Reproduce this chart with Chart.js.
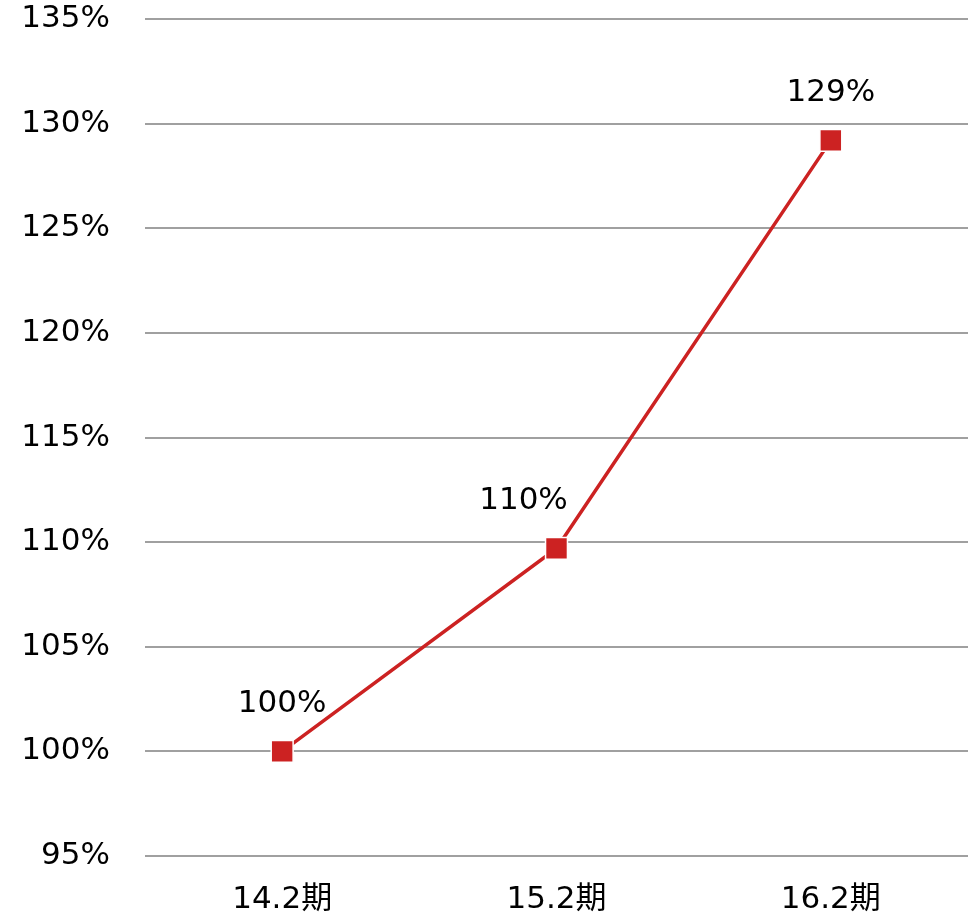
<!DOCTYPE html>
<html>
<head>
<meta charset="utf-8">
<style>
  html, body { margin: 0; padding: 0; background: #fff; }
  #wrap { width: 974px; height: 912px; }
</style>
</head>
<body>
<div id="wrap"><canvas id="line-chart" width="974" height="912"></canvas></div>
<script src="https://cdn.jsdelivr.net/npm/chart.js@4/dist/chart.umd.min.js"></script>
<script>
var categories = ["14.2期", "15.2期", "16.2期"];
var growth = [100, 109.7, 129.2];
var yTicks = [95, 100, 105, 110, 115, 120, 125, 130, 135];

var red = "#cc2222";
var font = "'DejaVu Sans', 'Noto Sans CJK JP', sans-serif";

// value labels above each square, middle one nudged left off the line
var pointLabels = {
  id: "pointLabels",
  afterDatasetsDraw: function (chart, args, opts) {
    var ctx = chart.ctx;
    var meta = chart.getDatasetMeta(0);
    ctx.save();
    ctx.font = "31px " + font;
    ctx.fillStyle = "#000";
    ctx.textAlign = "center";
    ctx.textBaseline = "middle";
    meta.data.forEach(function (pt, i) {
      var dx = opts.shiftX[i] || 0;
      ctx.fillText(Math.round(growth[i]) + "%", pt.x + dx, pt.y - 47);
    });
    ctx.restore();
  }
};

new Chart(document.getElementById("line-chart"), {
  type: "line",
  data: {
    labels: categories,
    datasets: [{
      data: growth,
      borderColor: red,
      borderWidth: 3.5,
      backgroundColor: red,
      pointStyle: "rect",
      pointRadius: 15.5,
      pointBorderColor: "#fff",
      pointBorderWidth: 1.5,
      pointBackgroundColor: red,
      fill: false,
      tension: 0,
      clip: false
    }]
  },
  options: {
    responsive: false,
    animation: false,
    layout: { autoPadding: false, padding: { top: 19, right: 6, left: 0, bottom: 0 } },
    plugins: {
      legend: { display: false },
      tooltip: { enabled: false },
      pointLabels: { shiftX: [0, -33, 0] }
    },
    scales: {
      x: {
        offset: true,
        grid: { display: false },
        border: { display: false },
        ticks: { color: "#000", font: { family: font, size: 31 }, padding: 17 },
        afterFit: function (s) { s.height = 56; s.paddingLeft = 0; s.paddingRight = 0; }
      },
      y: {
        min: 95,
        max: 135,
        afterBuildTicks: function (s) { s.ticks = yTicks.map(function (v) { return { value: v }; }); },
        grid: { color: "#a0a0a0", lineWidth: 2, drawTicks: false },
        border: { display: false },
        ticks: {
          color: "#000",
          font: { family: font, size: 31 },
          padding: 35,
          callback: function (v) { return v + "%"; }
        },
        afterFit: function (s) { s.width = 145; s.paddingTop = 0; s.paddingBottom = 0; }
      }
    }
  },
  plugins: [pointLabels]
});
</script>
</body>
</html>
